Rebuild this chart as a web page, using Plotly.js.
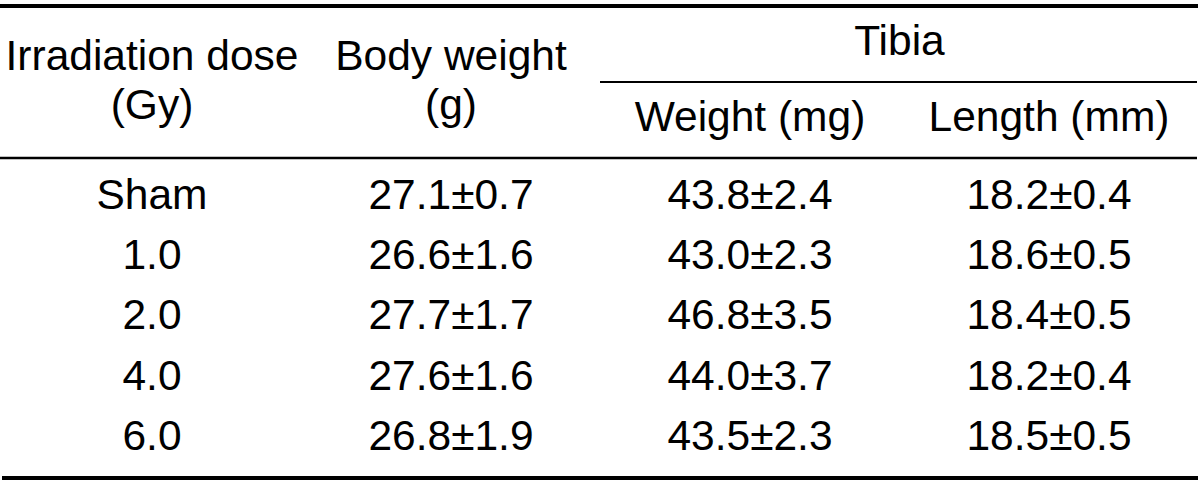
<!DOCTYPE html>
<html>
<head>
<meta charset="utf-8">
<script src="https://cdn.plot.ly/plotly-3.0.1.min.js"></script>
<style>
  html, body { margin: 0; padding: 0; background: #ffffff; }
  #chart { width: 1200px; height: 486px; }
</style>
</head>
<body>
<div id="chart"></div>
<script>
// ---- data ----
const doses = ["Sham", "1.0", "2.0", "4.0", "6.0"];
const bodyWeightMean = [27.1, 26.6, 27.7, 27.6, 26.8];
const bodyWeightSD   = [0.7, 1.6, 1.7, 1.6, 1.9];
const tibiaWeightMean = [43.8, 43.0, 46.8, 44.0, 43.5];
const tibiaWeightSD   = [2.4, 2.3, 3.5, 3.7, 2.3];
const tibiaLengthMean = [18.2, 18.6, 18.4, 18.2, 18.5];
const tibiaLengthSD   = [0.4, 0.5, 0.5, 0.4, 0.5];

const headerTop    = ["Irradiation dose", "Body weight"];
const headerBottom = ["(Gy)", "(g)"];
const groupHeader  = "Tibia";
const subHeaders   = ["Weight (mg)", "Length (mm)"];

// ---- layout constants (pixel-like axis units) ----
const colX = [152, 451, 750, 1049];
const rowY0 = 198, rowStep = 60.4;
const FONT = {family: '"Liberation Sans", Arial, Helvetica, sans-serif', size: 42.5, color: '#000000'};

const fmt = (m, s) => m.toFixed(1) + "\u00B1" + s.toFixed(1);

const rowYs = doses.map((_, i) => rowY0 + i * rowStep);

const bodyCol = bodyWeightMean.map((m, i) => fmt(m, bodyWeightSD[i]));
const twCol   = tibiaWeightMean.map((m, i) => fmt(m, tibiaWeightSD[i]));
const tlCol   = tibiaLengthMean.map((m, i) => fmt(m, tibiaLengthSD[i]));

function textTrace(xs, ys, texts) {
  return {
    type: 'scatter', mode: 'text', x: xs, y: ys, text: texts,
    textposition: 'middle center', textfont: FONT,
    hoverinfo: 'skip', showlegend: false, cliponaxis: false
  };
}

const traces = [
  textTrace([colX[0], colX[1]], [59, 59], headerTop),
  textTrace([colX[0], colX[1]], [108, 108], headerBottom),
  textTrace([(colX[2] + colX[3]) / 2], [44], [groupHeader]),
  textTrace([colX[2], colX[3]], [120.5, 120.5], subHeaders),
  textTrace(rowYs.map(() => colX[0]), rowYs, doses),
  textTrace(rowYs.map(() => colX[1]), rowYs, bodyCol),
  textTrace(rowYs.map(() => colX[2]), rowYs, twCol),
  textTrace(rowYs.map(() => colX[3]), rowYs, tlCol)
];

function rule(x0, x1, y, w) {
  return {type: 'line', xref: 'x', yref: 'y', x0: x0, x1: x1, y0: y, y1: y,
          line: {color: '#000000', width: w}, layer: 'above'};
}

const layout = {
  width: 1200, height: 486,
  margin: {l: 0, r: 0, t: 0, b: 0, pad: 0},
  paper_bgcolor: '#ffffff', plot_bgcolor: '#ffffff',
  showlegend: false,
  xaxis: {range: [0, 1200], visible: false, fixedrange: true},
  yaxis: {range: [486, 0], visible: false, fixedrange: true},
  shapes: [
    rule(0, 1198, 6, 4),
    rule(600, 1197, 82, 2),
    rule(0, 1197, 158, 2.5),
    rule(2, 1198, 478, 4)
  ]
};

Plotly.newPlot('chart', traces, layout, {displayModeBar: false, staticPlot: true});
</script>
</body>
</html>
